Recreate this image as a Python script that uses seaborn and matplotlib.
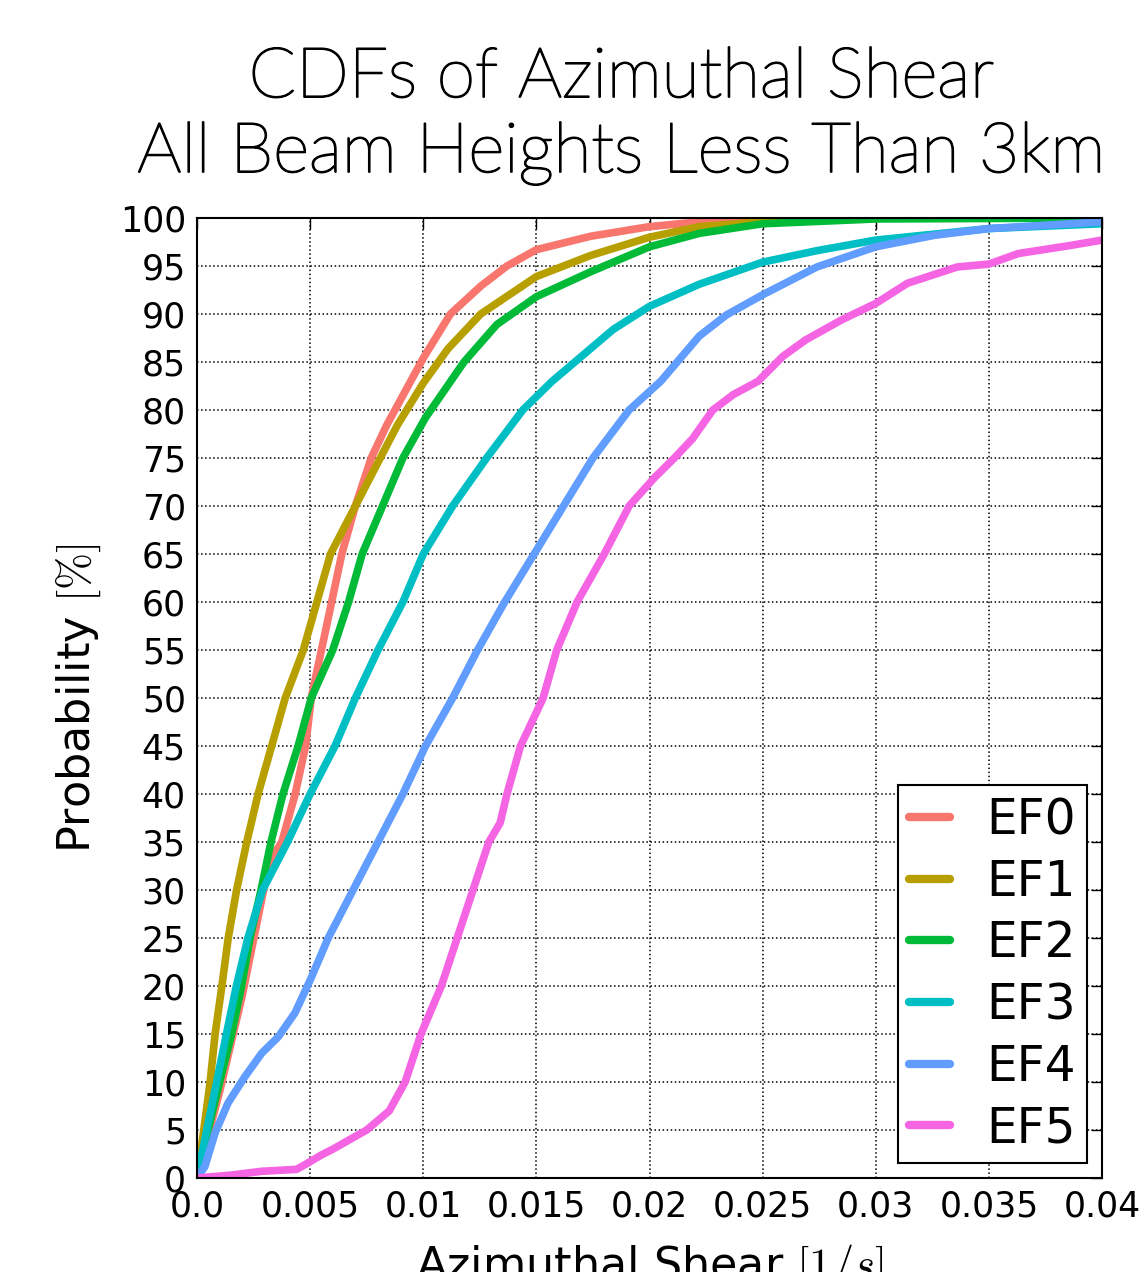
import matplotlib
matplotlib.use("Agg")
import matplotlib.pyplot as plt
from matplotlib import font_manager as fm
import matplotlib.patheffects as pe
import seaborn as sns
import pandas as pd

# ---------------- data ----------------
categories = ["EF0", "EF1", "EF2", "EF3", "EF4", "EF5"]
colors = ["#F8766D", "#B79F00", "#00BA38", "#00BFC4", "#619CFF", "#F564E3"]

ef0_x = [0.0, 0.001, 0.002, 0.0032, 0.00375, 0.00434, 0.0048, 0.00505, 0.0055, 0.00595,
         0.0064, 0.0070, 0.0077, 0.00838, 0.0100, 0.0112, 0.01254, 0.0137, 0.0150, 0.0174,
         0.0200, 0.0222, 0.0250, 0.0300, 0.0400]
ef0_y = [0, 9, 19, 33, 35, 40, 45, 50, 55, 60, 65, 70, 75, 78.4, 85.4, 90, 92.9, 95, 96.7,
         98.1, 99.1, 99.6, 99.9, 100, 100]

ef1_x = [0.0, 0.0003, 0.00058, 0.0008, 0.0011, 0.00138, 0.00175, 0.0022, 0.0027, 0.0033,
         0.0039, 0.0047, 0.0053, 0.0059, 0.0070, 0.0081, 0.00885, 0.0100, 0.0111, 0.01254,
         0.0150, 0.0174, 0.0200, 0.0222, 0.0250, 0.0300, 0.0400]
ef1_y = [0, 5, 10, 15, 20, 25, 30, 35, 40, 45, 50, 55, 60, 65, 70, 75, 78.4, 82.8, 86.4, 90,
         93.9, 96.1, 98.0, 99.1, 99.6, 100, 100]

ef2_x = [0.0, 0.00049, 0.001, 0.00153, 0.00197, 0.00234, 0.00283, 0.00327, 0.0038, 0.00447,
         0.00505, 0.0060, 0.0067, 0.0073, 0.0082, 0.0091, 0.0101, 0.0118, 0.01325, 0.0150,
         0.0174, 0.0200, 0.0222, 0.0250, 0.0300, 0.0400]
ef2_y = [0, 5, 10, 15, 20, 25, 30, 35, 40, 45, 50, 55, 60, 65, 70, 75, 79.2, 85, 88.9, 91.8,
         94.4, 97.0, 98.4, 99.4, 99.9, 100]

ef3_x = [0.0, 0.00043, 0.00087, 0.0013, 0.00174, 0.00225, 0.0029, 0.0040, 0.0050, 0.0061,
         0.0070, 0.0080, 0.0091, 0.0100, 0.0113, 0.0128, 0.0144, 0.0157, 0.0184, 0.0200,
         0.0222, 0.0250, 0.0274, 0.0300, 0.0350, 0.0400]
ef3_y = [0, 5, 10, 15, 20, 25, 30, 35, 40, 45, 50, 55, 60, 65, 70, 75, 80, 83, 88.4, 90.8,
         93.1, 95.4, 96.6, 97.7, 98.9, 99.4]

ef4_x = [0.0, 0.00035, 0.0008, 0.00137, 0.0021, 0.00286, 0.00359, 0.00433, 0.0050, 0.0058,
         0.0069, 0.0080, 0.0091, 0.0101, 0.0113, 0.0124, 0.0136, 0.0149, 0.0162, 0.0175,
         0.0191, 0.0205, 0.0222, 0.0234, 0.0250, 0.0274, 0.0300, 0.0326, 0.0350, 0.0400]
ef4_y = [0, 1.2, 4.7, 7.8, 10.5, 13, 14.7, 17.2, 20.6, 25, 30, 35, 40, 45, 50, 55, 60, 65,
         70, 75, 80, 83, 87.7, 89.9, 92, 94.9, 97, 98.2, 98.9, 99.6]

ef5_x = [0.0, 0.0015, 0.00286, 0.0044, 0.00478, 0.0055, 0.0060, 0.0066, 0.0075, 0.0085,
         0.0092, 0.0099, 0.0108, 0.0115, 0.0122, 0.0129, 0.0134, 0.0137, 0.0143, 0.0153,
         0.0159, 0.0168, 0.0180, 0.0191, 0.0202, 0.0211, 0.0219, 0.0228, 0.0237, 0.0248,
         0.0259, 0.0269, 0.0285, 0.0300, 0.0314, 0.0336, 0.0350, 0.0363, 0.0385, 0.0400]
ef5_y = [0, 0.3, 0.7, 0.9, 1.4, 2.4, 3.0, 3.8, 5, 7, 10, 15, 20, 25, 30, 35, 37, 40, 45, 50,
         55, 60, 65, 70, 72.9, 75, 77, 80, 81.6, 83, 85.6, 87.3, 89.4, 91.1, 93.2, 94.9,
         95.2, 96.3, 97.1, 97.7]

xticks = [0.0, 0.005, 0.01, 0.015, 0.02, 0.025, 0.03, 0.035, 0.04]
xtick_labels = ["0.0", "0.005", "0.01", "0.015", "0.02", "0.025", "0.03", "0.035", "0.04"]
yticks = list(range(0, 101, 5))

title_lines = ["CDFs of Azimuthal Shear", "All Beam Heights Less Than 3km"]

# ---------------- build table ----------------
series_x = [ef0_x, ef1_x, ef2_x, ef3_x, ef4_x, ef5_x]
series_y = [ef0_y, ef1_y, ef2_y, ef3_y, ef4_y, ef5_y]
frames = []
for name, xs, ys in zip(categories, series_x, series_y):
    frames.append(pd.DataFrame({"shear": xs, "prob": ys, "EF": name}))
df = pd.concat(frames, ignore_index=True)

# ---------------- style ----------------
sns.set_style("white")
plt.rcParams["font.family"] = ["DejaVu Sans"]
plt.rcParams["mathtext.fontset"] = "cm"
plt.rcParams["text.color"] = "black"
plt.rcParams["axes.labelcolor"] = "black"

fig = plt.figure(figsize=(11.42, 12.72), dpi=100)
ax = fig.add_axes([197 / 1142, 94 / 1272, 905 / 1142, 960 / 1272])

sns.lineplot(data=df, x="shear", y="prob", hue="EF", hue_order=categories,
             palette=dict(zip(categories, colors)), linewidth=5.5, estimator=None,
             sort=False, ax=ax, legend=True)

ax.set_xlim(0, 0.04)
ax.set_ylim(0, 100)
ax.set_xticks(xticks)
ax.set_xticklabels(xtick_labels)
ax.set_yticks(yticks)
ax.tick_params(direction="in", length=8, width=1, top=True, right=True,
               labelsize=25, pad=8, colors="black")
ax.grid(True, linestyle=":", color="black", linewidth=1.1)
for sp in ax.spines.values():
    sp.set_color("black")
    sp.set_linewidth(1.5)

ax.set_xlabel(r"Azimuthal Shear $[1/s]$", fontsize=32, labelpad=14)
ax.set_ylabel(r"Probability $[\%]$", fontsize=32, labelpad=12)

leg = ax.legend(loc="lower right", fontsize=35, frameon=True, fancybox=False,
                handlelength=0.85, handletextpad=0.75, labelspacing=0.28,
                borderpad=0.23, borderaxespad=0.3, framealpha=1)
leg.get_frame().set_edgecolor("black")
leg.get_frame().set_linewidth(1.5)
for ln in leg.get_lines():
    ln.set_linewidth(6)
for t in leg.get_texts():
    t.set_color("black")

# title font: a light sans (thickened slightly) if one is installed
title_family = ["Lato", "DejaVu Sans"]
title_weight = "light"
stroke = 1.3
try:
    p = fm.findfont(fm.FontProperties(family="Lato", weight="light"), fallback_to_default=False)
    if "light" not in p.lower() and "thin" not in p.lower():
        title_weight = "normal"
        stroke = 0.0
except Exception:
    title_weight = "normal"
    stroke = 0.0
effects = [pe.withStroke(linewidth=stroke, foreground="black")] if stroke > 0 else None

for txt, base in zip(title_lines, [97, 172]):
    fig.text(0.544, 1 - base / 1272, txt, ha="center", va="baseline",
             fontsize=50, family=title_family, weight=title_weight, color="black",
             path_effects=effects)

fig.savefig("out.png", dpi=100)
